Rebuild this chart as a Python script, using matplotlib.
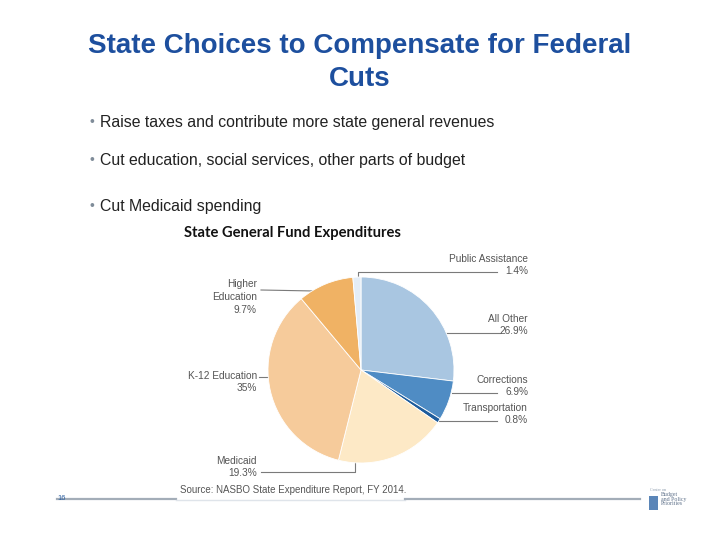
import matplotlib
matplotlib.use("Agg")
import matplotlib.pyplot as plt

# ── data ─────────────────────────────────────────────────────────────
CATEGORIES = ["All Other", "Corrections", "Transportation", "Medicaid",
              "K-12 Education", "Higher Education", "Public Assistance"]
SHARES = [26.9, 6.9, 0.8, 19.3, 35.0, 9.7, 1.4]
LABELS = ["All Other\n26.9%", "Corrections\n6.9%", "Transportation\n0.8%",
          "Medicaid\n19.3%", "K-12 Education\n35%", "Higher\nEducation\n9.7%",
          "Public Assistance\n1.4%"]
COLORS = ["#a9c6e1", "#4f8cc4", "#1d5c9c", "#fde9c6",
          "#f6cb9b", "#f0b264", "#e4edf6"]

BULLETS = ["Raise taxes and contribute more state general revenues",
           "Cut education, social services, other parts of budget",
           "Cut Medicaid spending"]

W, H = 720, 540
fig = plt.figure(figsize=(7.2, 5.4), dpi=100)
fig.patch.set_facecolor("white")

# overlay in pixel coordinates
ov = fig.add_axes([0, 0, 1, 1])
ov.set_xlim(0, W)
ov.set_ylim(H, 0)
ov.axis("off")

# ── pie ──────────────────────────────────────────────────────────────
CX, CY, R = 361, 370, 93
pa = fig.add_axes([(CX - R) / W, 1 - (CY + R) / H, 2 * R / W, 2 * R / H])
pa.pie(SHARES, colors=COLORS, startangle=90, counterclock=False,
       wedgeprops=dict(edgecolor="white", linewidth=0.6))
pa.set_xlim(-1, 1)
pa.set_ylim(-1, 1)
pa.set_aspect("auto")
pa.axis("off")

# ── title / bullets ─────────────────────────────────────────────────
TITLE_C = "#1d4f9e"
ov.text(360, 46, "State Choices to Compensate for Federal", ha="center",
        va="center", fontsize=20, fontweight="bold", color=TITLE_C,
        family="Liberation Sans")
ov.text(360, 79, "Cuts", ha="center", va="center", fontsize=20,
        fontweight="bold", color=TITLE_C, family="Liberation Sans")

for y, txt in zip([122, 160, 206], BULLETS):
    ov.text(90, y, "•", ha="left", va="center", fontsize=10, color="#7f8c99",
            family="Liberation Sans")
    ov.text(100, y, txt, ha="left", va="center", fontsize=11.4,
            color="#222222", family="Liberation Sans")

ov.text(292, 233, "State General Fund Expenditures", ha="center",
        va="center", fontsize=10.6, fontweight="bold", color="#111111",
        family="Lato")

# ── pie labels + leader lines ──────────────────────────────────────
LBL_C = "#555555"
LINE_C = "#7a7a7a"
lk = dict(fontsize=7.3, color=LBL_C, family="Liberation Sans", linespacing=1.35)

# right side
ov.text(528, 265, LABELS[6], ha="right", va="center", **lk)
ov.plot([358, 358, 497], [280, 272, 272], color=LINE_C, lw=0.8)
ov.text(528, 325, LABELS[0], ha="right", va="center", **lk)
ov.plot([446, 500], [333, 333], color=LINE_C, lw=0.8)
ov.text(528, 386, LABELS[1], ha="right", va="center", **lk)
ov.plot([452, 497], [393, 393], color=LINE_C, lw=0.8)
ov.text(528, 414, LABELS[2], ha="right", va="center", **lk)
ov.plot([439, 497], [421, 421], color=LINE_C, lw=0.8)

# left side
ov.text(257, 297, LABELS[5], ha="right", va="center", **lk)
ov.plot([261, 314], [290, 291], color=LINE_C, lw=0.8)
ov.text(257, 382, LABELS[4], ha="right", va="center", **lk)
ov.plot([259, 269], [377, 377], color=LINE_C, lw=0.8)
ov.text(257, 467, LABELS[3], ha="right", va="center", **lk)
ov.plot([261, 355, 355], [472, 472, 458], color=LINE_C, lw=0.8)

# source
ov.text(180, 490, "Source: NASBO State Expenditure Report, FY 2014.",
        ha="left", va="center", fontsize=7, color=LBL_C,
        family="Liberation Sans")

# ── footer ─────────────────────────────────────────────────────────
ov.plot([57, 176], [499, 499], color="#a3adb8", lw=1.6)
ov.plot([176, 405], [499.5, 499.5], color="#dfe4ea", lw=1.0)
ov.plot([405, 640], [499, 499], color="#a3adb8", lw=1.6)
ov.text(62, 498, "16", ha="center", va="center", fontsize=5.5,
        color="#2d5fa0", family="Liberation Sans")

# logo
ov.add_patch(plt.Rectangle((649, 496), 9, 14, facecolor="#5b86b8",
                           edgecolor="none"))
ov.text(650, 490, "Center on", ha="left", va="center", fontsize=3,
        color="#8595a8", family="Liberation Serif")
ov.text(661, 499, "Budget\nand Policy\nPriorities", ha="left", va="center",
        fontsize=4.2, color="#5c6f88", family="Liberation Serif",
        linespacing=0.9)

fig.savefig("out.png", dpi=100, facecolor="white")
